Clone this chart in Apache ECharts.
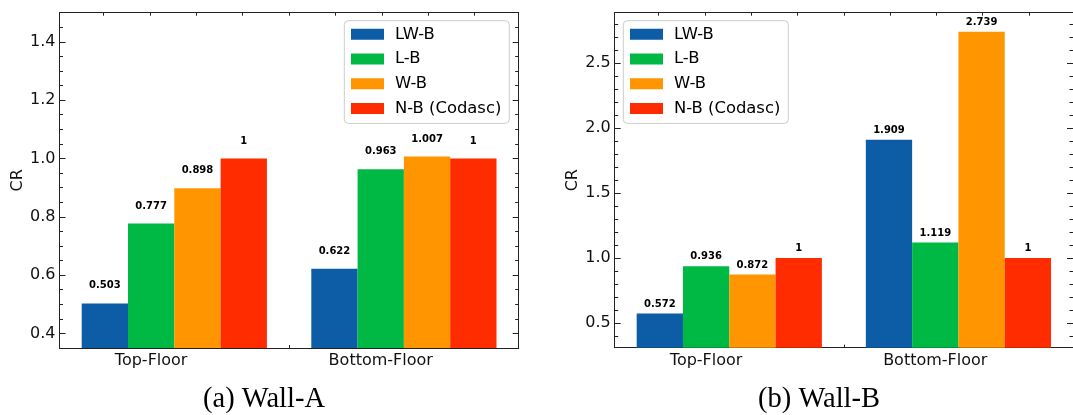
<!DOCTYPE html>
<html>
<head>
<meta charset="utf-8">
<script src="https://cdn.jsdelivr.net/npm/echarts@6/dist/echarts.min.js"></script>
<style>
html,body{margin:0;padding:0;background:#fff;}
#c{width:1073px;height:415px;}
</style>
</head>
<body>
<div id="c"></div>
<script>
// ---- data ----
const categories = ['Top-Floor', 'Bottom-Floor'];
const seriesNames = ['LW-B', 'L-B', 'W-B', 'N-B (Codasc)'];
const colors = ['#0C5DA5', '#00B945', '#FF9500', '#FF2C00'];

// Wall-A
const wallA_LWB = [0.503, 0.622];
const wallA_LB = [0.777, 0.963];
const wallA_WB = [0.898, 1.007];
const wallA_NB = [1, 1];

// Wall-B
const wallB_LWB = [0.572, 1.909];
const wallB_LB = [0.936, 1.119];
const wallB_WB = [0.872, 2.739];
const wallB_NB = [1, 1];

// tick values
const yTicksA = [0.4, 0.6, 0.8, 1.0, 1.2, 1.4];
const yMinorA = [0.45, 0.5, 0.55, 0.65, 0.7, 0.75, 0.85, 0.9, 0.95, 1.05, 1.1, 1.15, 1.25, 1.3, 1.35, 1.45];
const yTicksB = [0.5, 1.0, 1.5, 2.0, 2.5];
const yMinorB = [0.4, 0.6, 0.7, 0.8, 0.9, 1.1, 1.2, 1.3, 1.4, 1.6, 1.7, 1.8, 1.9, 2.1, 2.2, 2.3, 2.4, 2.6, 2.7, 2.8];
const xTopTicks = [-0.3, -0.1, 0.1, 0.3, 0.5, 0.7, 0.9, 1.1, 1.3];

const captions = ['(a) Wall-A', '(b) Wall-B'];

// ---- chart ----
const FONT = 'DejaVu Sans';
const AX = '#222';
const chart = echarts.init(document.getElementById('c'), null, {renderer: 'canvas'});

const grids = [
  {left: 59.5, top: 12.7, width: 459.2, height: 335.3},
  {left: 614.7, top: 12.7, width: 459.3, height: 335}
];
const yRanges = [[0.35, 1.5], [0.31, 2.885]];
const majors = [yTicksA, yTicksB];
const minors = [yMinorA, yMinorB];

const xAxes = [];
const yAxes = [];
[0, 1].forEach(g => {
  xAxes.push({
    type: 'category', gridIndex: g, data: categories, position: 'bottom',
    axisLine: {show: true, onZero: false, lineStyle: {color: AX, width: 1}},
    axisTick: {show: true, inside: true, length: 3, alignWithLabel: false, lineStyle: {color: AX}},
    axisLabel: {fontFamily: FONT, fontSize: 16, color: '#111', margin: 5, padding: [0, 46.3, 0, 0]},
    splitLine: {show: false}
  });
  xAxes.push({
    type: 'value', gridIndex: g, position: 'top', min: -0.49, max: 1.49,
    axisLine: {show: true, onZero: false, lineStyle: {color: AX, width: 1}},
    axisTick: {show: true, inside: true, length: 3, customValues: xTopTicks, lineStyle: {color: AX}},
    axisLabel: {show: false},
    splitLine: {show: false}
  });
  const [mn, mx] = yRanges[g];
  yAxes.push({
    type: 'value', gridIndex: g, position: 'left', min: mn, max: mx,
    name: 'CR', nameLocation: 'middle', nameGap: 34,
    nameTextStyle: {fontFamily: FONT, fontSize: 16, color: '#111'},
    axisLine: {show: true, onZero: false, lineStyle: {color: AX, width: 1}},
    axisTick: {show: true, inside: true, length: 6, customValues: majors[g], lineStyle: {color: AX}},
    axisLabel: {fontFamily: FONT, fontSize: 16, color: '#111', margin: 4,
      customValues: majors[g], formatter: v => Number(v).toFixed(1)},
    splitLine: {show: false}
  });
  yAxes.push({
    type: 'value', gridIndex: g, position: 'left', min: mn, max: mx,
    axisLine: {show: false, onZero: false},
    axisTick: {show: true, inside: true, length: 3.5, customValues: minors[g], lineStyle: {color: AX}},
    axisLabel: {show: false}, splitLine: {show: false}
  });
  yAxes.push({
    type: 'value', gridIndex: g, position: 'right', min: mn, max: mx,
    axisLine: {show: true, onZero: false, lineStyle: {color: AX, width: 1}},
    axisTick: {show: true, inside: true, length: 6, customValues: majors[g], lineStyle: {color: AX}},
    axisLabel: {show: false}, splitLine: {show: false}
  });
  yAxes.push({
    type: 'value', gridIndex: g, position: 'right', min: mn, max: mx,
    axisLine: {show: false, onZero: false},
    axisTick: {show: true, inside: true, length: 3.5, customValues: minors[g], lineStyle: {color: AX}},
    axisLabel: {show: false}, splitLine: {show: false}
  });
});

const dataA = [wallA_LWB, wallA_LB, wallA_WB, wallA_NB];
const dataB = [wallB_LWB, wallB_LB, wallB_WB, wallB_NB];
const labelDist = [12.5, 4.5];
const series = [];
[dataA, dataB].forEach((set, g) => {
  set.forEach((vals, i) => {
    series.push({
      type: 'bar', name: seriesNames[i], data: vals,
      xAxisIndex: g * 2, yAxisIndex: g * 4,
      barWidth: 46.3, barGap: '0%',
      itemStyle: {color: colors[i]},
      label: {show: true, position: 'top', distance: labelDist[g],
        fontFamily: FONT, fontSize: 10, fontWeight: 'bold', color: '#000'},
      emphasis: {disabled: true},
      animation: false
    });
  });
});

const legendBase = {
  orient: 'vertical', top: 20.7, data: seriesNames, icon: 'rect',
  itemWidth: 33, itemHeight: 11, itemGap: 8.7,
  padding: [5.6, 8, 7, 6.7],
  borderColor: '#cccccc', borderWidth: 1, borderRadius: 4,
  backgroundColor: 'rgba(255,255,255,0.8)',
  textStyle: {fontFamily: FONT, fontSize: 16.4, lineHeight: 16, color: '#000', padding: [0, 0, 0, 6]},
  selectedMode: false
};

chart.setOption({
  backgroundColor: '#fff',
  animation: false,
  grid: grids,
  xAxis: xAxes,
  yAxis: yAxes,
  legend: [
    Object.assign({}, legendBase, {left: 344.3}),
    Object.assign({}, legendBase, {left: 623.3})
  ],
  series: series,
  graphic: [
    {type: 'text', x: 264, y: 400, style: {text: captions[0], font: '28.5px "Liberation Serif"', fill: '#000', textAlign: 'center', textVerticalAlign: 'middle'}},
    {type: 'text', x: 819, y: 400, style: {text: captions[1], font: '28.5px "Liberation Serif"', fill: '#000', textAlign: 'center', textVerticalAlign: 'middle'}}
  ]
});
</script>
</body>
</html>
